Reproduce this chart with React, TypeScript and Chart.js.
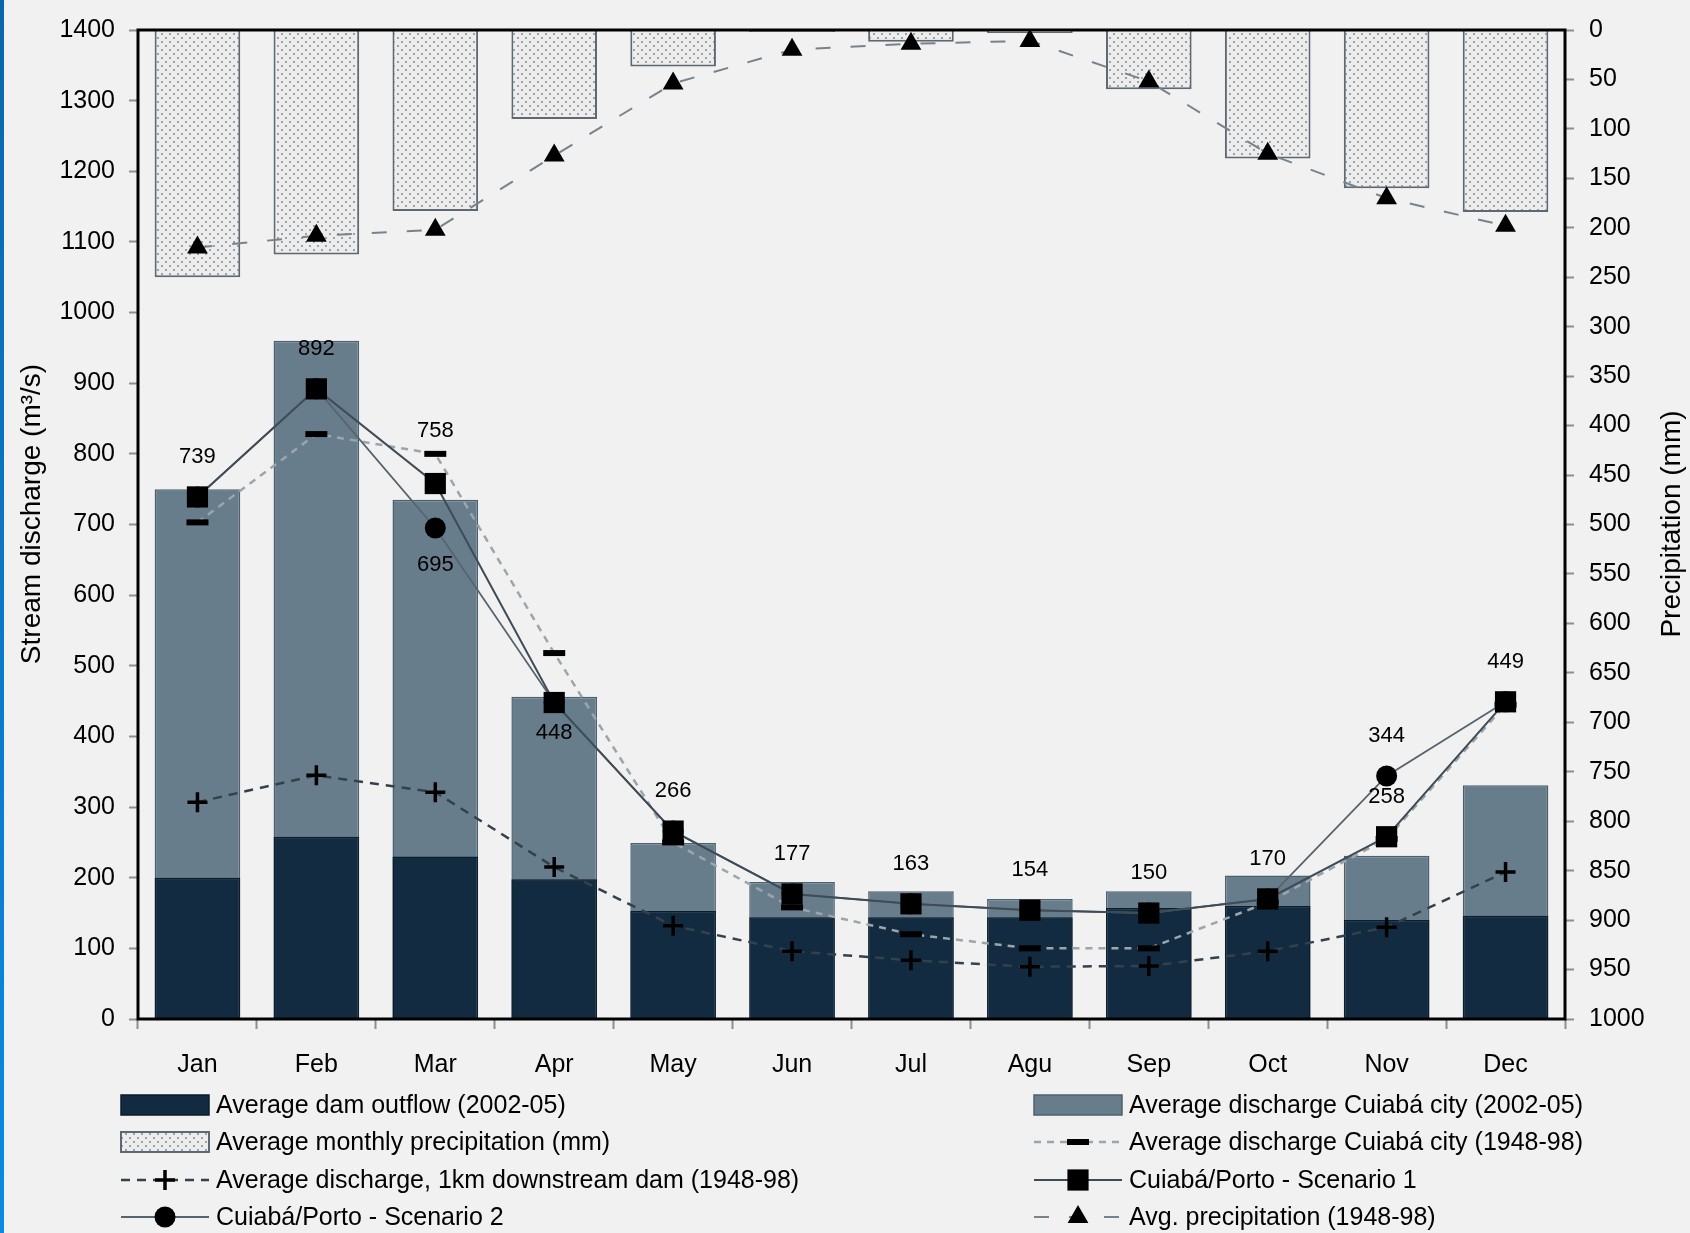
import React, { useEffect, useRef } from 'react';
import { Chart, registerables } from 'chart.js';

Chart.register(...registerables);

// ---------- data ----------
const months = ['Jan', 'Feb', 'Mar', 'Apr', 'May', 'Jun', 'Jul', 'Agu', 'Sep', 'Oct', 'Nov', 'Dec'];
const damOutflow = [200, 258, 230, 198, 153, 144, 144, 144, 157, 160, 140, 146];
const cityDischarge2002 = [750, 960, 735, 456, 249, 194, 181, 170, 181, 203, 231, 331];
const monthlyPrecip = [250, 227, 183, 90, 37, 2, 12, 3, 60, 130, 160, 184];
const cityDischarge1948 = [703, 828, 800, 518, 250, 158, 120, 100, 100, 165, 255, 445];
const downstream1948 = [307, 345, 321, 215, 132, 96, 83, 74, 75, 96, 130, 208];
const scenario1 = [739, 892, 758, 448, 266, 177, 163, 154, 150, 170, 258, 449];
const scenario2 = [739, 892, 695, 448, 266, 177, 163, 154, 150, 170, 344, 449];
const avgPrecip1948 = [220, 208, 202, 127, 54, 20, 14, 11, 52, 125, 170, 198];

// label placement (style): vertical offset of value labels from their marker, px
const scenario1LabelOffset = [-40, -40, -53, 30, -40, -40, -40, -40, -40, -40, -40, -40];
const scenario2LabelOffset = [-40, -40, 37, 30, -40, -40, -40, -40, -40, -40, -40, -40];

function hasFont(name: string): boolean {
  const c = document.createElement('canvas').getContext('2d');
  if (!c) return false;
  const txt = 'Average 1400 mmWi discharge';
  c.font = '40px monospace';
  const a = c.measureText(txt).width;
  c.font = `40px "${name}", monospace`;
  const b = c.measureText(txt).width;
  return Math.abs(a - b) > 0.5;
}

function makePattern(): CanvasPattern | string {
  const c = document.createElement('canvas');
  c.width = 8;
  c.height = 8;
  const g = c.getContext('2d');
  if (!g) return '#e6e6e6';
  g.fillStyle = '#ededed';
  g.fillRect(0, 0, 8, 8);
  g.fillStyle = '#9aa1a7';
  g.fillRect(1, 1, 2, 2);
  g.fillRect(5, 5, 2, 2);
  return g.createPattern(c, 'repeat') || '#e6e6e6';
}

function drawMarker(ctx: CanvasRenderingContext2D, style: string, x: number, y: number, r: number, bw: number, color: string) {
  ctx.save();
  ctx.fillStyle = color;
  ctx.strokeStyle = color;
  ctx.setLineDash([]);
  ctx.beginPath();
  if (style === 'rect') {
    const s = r * Math.SQRT1_2;
    ctx.rect(x - s, y - s, 2 * s, 2 * s);
    ctx.fill();
  } else if (style === 'circle') {
    ctx.arc(x, y, r, 0, Math.PI * 2);
    ctx.fill();
  } else if (style === 'triangle') {
    let rad = 0;
    ctx.moveTo(x + Math.sin(rad) * r, y - Math.cos(rad) * r);
    rad += (2 * Math.PI) / 3;
    ctx.lineTo(x + Math.sin(rad) * r, y - Math.cos(rad) * r);
    rad += (2 * Math.PI) / 3;
    ctx.lineTo(x + Math.sin(rad) * r, y - Math.cos(rad) * r);
    ctx.closePath();
    ctx.fill();
  } else if (style === 'cross') {
    ctx.lineWidth = bw;
    ctx.moveTo(x - r, y);
    ctx.lineTo(x + r, y);
    ctx.moveTo(x, y - r);
    ctx.lineTo(x, y + r);
    ctx.stroke();
  } else if (style === 'line') {
    ctx.lineWidth = bw;
    ctx.moveTo(x - r, y);
    ctx.lineTo(x + r, y);
    ctx.stroke();
  }
  ctx.restore();
}

export default function App() {
  const ref = useRef<HTMLCanvasElement>(null);

  useEffect(() => {
    document.body.style.margin = '0';
    const canvas = ref.current;
    if (!canvas) return;

    const narrow = hasFont('Liberation Sans Narrow');
    const FAM = narrow
      ? '"Liberation Sans Narrow", "Liberation Sans", Arial, sans-serif'
      : '"Liberation Sans", Arial, sans-serif';
    const FAM_REG = '"Liberation Sans", Arial, sans-serif';
    const tickSize = narrow ? 30 : 25;
    const labelSize = narrow ? 27 : 22;
    const legendSize = narrow ? 30 : 25;

    const precipPattern = makePattern();

    const datasets: any[] = [
      {
        type: 'bar',
        label: 'Average monthly precipitation (mm)',
        data: monthlyPrecip,
        yAxisID: 'y1',
        backgroundColor: precipPattern,
        borderColor: '#5d6872',
        borderWidth: 2,
        grouped: false,
        barPercentage: 0.72,
        categoryPercentage: 1,
        order: 10,
        legendPos: [0, 1],
      },
      {
        type: 'bar',
        label: 'Average discharge Cuiabá city (2002-05)',
        data: cityDischarge2002,
        yAxisID: 'y',
        backgroundColor: '#687d8c',
        borderColor: '#4d606e',
        borderWidth: 1.5,
        grouped: false,
        barPercentage: 0.72,
        categoryPercentage: 1,
        order: 9,
        legendPos: [1, 0],
      },
      {
        type: 'bar',
        label: 'Average dam outflow (2002-05)',
        data: damOutflow,
        yAxisID: 'y',
        backgroundColor: '#132b41',
        borderColor: '#0b1c2b',
        borderWidth: 1.5,
        grouped: false,
        barPercentage: 0.72,
        categoryPercentage: 1,
        order: 8,
        legendPos: [0, 0],
      },
      {
        type: 'line',
        label: 'Avg. precipitation (1948-98)',
        data: avgPrecip1948,
        yAxisID: 'y1',
        borderColor: '#76838d',
        borderWidth: 2,
        borderDash: [15, 20],
        pointStyle: 'triangle',
        pointRadius: 12,
        pointBorderWidth: 0,
        pointBackgroundColor: '#000',
        pointBorderColor: '#000',
        fill: false,
        tension: 0,
        order: 7,
        legendPos: [1, 3],
      },
      {
        type: 'line',
        label: 'Average discharge Cuiabá city (1948-98)',
        data: cityDischarge1948,
        yAxisID: 'y',
        borderColor: '#9ca5ab',
        borderWidth: 2.5,
        borderDash: [7, 6],
        pointStyle: 'line',
        pointRadius: 11,
        pointBorderWidth: 6,
        pointBackgroundColor: '#000',
        pointBorderColor: '#000',
        fill: false,
        tension: 0,
        order: 6,
        legendPos: [1, 1],
      },
      {
        type: 'line',
        label: 'Average discharge, 1km downstream dam (1948-98)',
        data: downstream1948,
        yAxisID: 'y',
        borderColor: '#33414c',
        borderWidth: 2.5,
        borderDash: [9, 7],
        pointStyle: 'cross',
        pointRadius: 10,
        pointBorderWidth: 3.5,
        pointBackgroundColor: '#000',
        pointBorderColor: '#000',
        fill: false,
        tension: 0,
        order: 5,
        legendPos: [0, 2],
      },
      {
        type: 'line',
        label: 'Cuiabá/Porto - Scenario 2',
        data: scenario2,
        yAxisID: 'y',
        borderColor: '#56646f',
        borderWidth: 1.8,
        pointStyle: 'circle',
        pointRadius: 10.5,
        pointBorderWidth: 0,
        pointBackgroundColor: '#000',
        pointBorderColor: '#000',
        fill: false,
        tension: 0,
        order: 2,
        legendPos: [0, 3],
      },
      {
        type: 'line',
        label: 'Cuiabá/Porto - Scenario 1',
        data: scenario1,
        yAxisID: 'y',
        borderColor: '#3e4c57',
        borderWidth: 2,
        pointStyle: 'rect',
        pointRadius: 15,
        pointBorderWidth: 0,
        pointBackgroundColor: '#000',
        pointBorderColor: '#000',
        fill: false,
        tension: 0,
        order: 1,
        legendPos: [1, 2],
      },
    ];

    const idxS1 = datasets.findIndex((d) => d.label === 'Cuiabá/Porto - Scenario 1');
    const idxS2 = datasets.findIndex((d) => d.label === 'Cuiabá/Porto - Scenario 2');

    const legendRowY = [1105, 1142, 1180, 1217];
    const legendColX = [121, 1034];
    const legendSymW = 88;

    const decor = {
      id: 'decor',
      beforeDraw(chart: any) {
        const { ctx, width, height } = chart;
        ctx.save();
        ctx.fillStyle = '#f1f1f1';
        ctx.fillRect(0, 0, width, height);
        const g = ctx.createLinearGradient(0, 0, 0, height);
        g.addColorStop(0, '#0a66ac');
        g.addColorStop(1, '#0a8ae4');
        ctx.fillStyle = g;
        ctx.fillRect(0, 0, 4, height);
        ctx.restore();
      },
      afterDatasetsDraw(chart: any) {
        const { ctx, chartArea: a } = chart;
        ctx.save();
        // plot frame
        ctx.lineWidth = 3;
        ctx.strokeStyle = '#000';
        ctx.setLineDash([]);
        ctx.strokeRect(a.left, a.top, a.right - a.left, a.bottom - a.top);

        // value labels
        ctx.font = `${labelSize}px ${FAM}`;
        ctx.fillStyle = '#000';
        ctx.textAlign = 'center';
        ctx.textBaseline = 'middle';
        const m1 = chart.getDatasetMeta(idxS1).data;
        const m2 = chart.getDatasetMeta(idxS2).data;
        scenario1.forEach((v, i) => {
          const p = m1[i];
          ctx.fillText(String(v), p.x, p.y + scenario1LabelOffset[i]);
        });
        scenario2.forEach((v, i) => {
          if (v === scenario1[i]) return;
          const p = m2[i];
          ctx.fillText(String(v), p.x, p.y + scenario2LabelOffset[i]);
        });

        // axis titles
        ctx.font = `28px ${FAM_REG}`;
        ctx.save();
        ctx.translate(32, 514);
        ctx.rotate(-Math.PI / 2);
        ctx.fillText('Stream discharge (m³/s)', 0, 0);
        ctx.restore();
        ctx.save();
        ctx.translate(1672, 524);
        ctx.rotate(-Math.PI / 2);
        ctx.fillText('Precipitation (mm)', 0, 0);
        ctx.restore();

        // legend
        ctx.font = `${legendSize}px ${FAM}`;
        ctx.textAlign = 'left';
        ctx.textBaseline = 'middle';
        chart.data.datasets.forEach((ds: any) => {
          const [col, row] = ds.legendPos;
          const x0 = legendColX[col];
          const y = legendRowY[row];
          if (ds.type === 'bar') {
            ctx.fillStyle = ds.backgroundColor;
            ctx.fillRect(x0, y - 10, legendSymW, 20);
            ctx.lineWidth = ds.borderWidth;
            ctx.strokeStyle = ds.borderColor;
            ctx.strokeRect(x0, y - 10, legendSymW, 20);
          } else {
            ctx.save();
            ctx.setLineDash(ds.borderDash || []);
            ctx.strokeStyle = ds.borderColor;
            ctx.lineWidth = ds.borderWidth;
            ctx.beginPath();
            ctx.moveTo(x0, y);
            ctx.lineTo(x0 + legendSymW, y);
            ctx.stroke();
            ctx.restore();
            drawMarker(ctx, ds.pointStyle, x0 + legendSymW / 2, y, ds.pointRadius, ds.pointBorderWidth, '#000');
          }
          ctx.fillStyle = '#000';
          ctx.fillText(ds.label, x0 + legendSymW + 7, y + 1);
        });
        ctx.restore();
      },
    };

    const tickFont = { family: FAM, size: tickSize, weight: 'normal' as const };

    const chart = new Chart(canvas, {
      type: 'bar',
      data: { labels: months, datasets },
      options: {
        animation: false,
        responsive: false,
        devicePixelRatio: 1,
        events: [],
        layout: { padding: { top: 29, left: 0, right: 0, bottom: 0 } },
        plugins: {
          legend: { display: false },
          tooltip: { enabled: false },
          title: { display: false },
        },
        scales: {
          x: {
            type: 'category',
            offset: true,
            grid: {
              display: true,
              offset: true,
              drawOnChartArea: false,
              drawTicks: true,
              tickLength: 10,
              tickWidth: 2,
              tickColor: '#8e8e8e',
              color: '#8e8e8e',
            },
            border: { display: false },
            ticks: {
              font: tickFont,
              color: '#000',
              padding: 1065 - 1019 - 10 - 0.6 * tickSize,
              maxRotation: 0,
              autoSkip: false,
            },
            afterFit: (s: any) => {
              s.height = 214;
            },
          },
          y: {
            type: 'linear',
            position: 'left',
            min: 0,
            max: 1400,
            grid: {
              display: true,
              drawOnChartArea: false,
              drawTicks: true,
              tickLength: 9,
              tickWidth: 2,
              tickColor: '#8e8e8e',
              color: '#8e8e8e',
            },
            border: { display: false },
            ticks: {
              stepSize: 100,
              autoSkip: false,
              font: tickFont,
              color: '#000',
              padding: 14,
              callback: (v: any) => String(v),
            },
            afterFit: (s: any) => {
              s.width = 138;
            },
          },
          y1: {
            type: 'linear',
            position: 'right',
            reverse: true,
            min: 0,
            max: 1000,
            grid: {
              display: true,
              drawOnChartArea: false,
              drawTicks: true,
              tickLength: 9,
              tickWidth: 2,
              tickColor: '#8e8e8e',
              color: '#8e8e8e',
            },
            border: { display: false },
            ticks: {
              stepSize: 50,
              autoSkip: false,
              font: tickFont,
              color: '#000',
              padding: 15,
              callback: (v: any) => String(v),
            },
            afterFit: (s: any) => {
              s.width = 125;
            },
          },
        },
      } as any,
      plugins: [decor],
    });

    return () => chart.destroy();
  }, []);

  return (
    <div style={{ position: 'absolute', left: 0, top: 0, width: 1690, height: 1233 }}>
      <canvas ref={ref} width={1690} height={1233} style={{ display: 'block', width: 1690, height: 1233 }} />
    </div>
  );
}
